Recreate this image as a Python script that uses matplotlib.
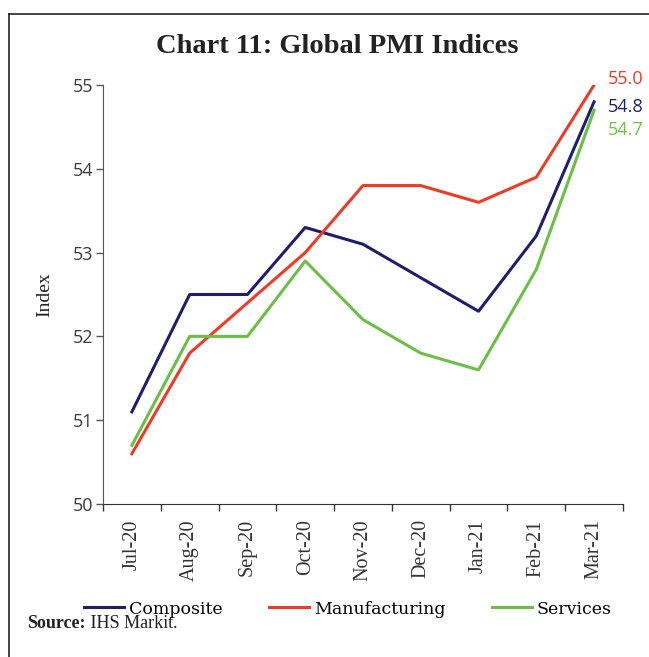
import matplotlib
matplotlib.use("Agg")
import matplotlib.pyplot as plt
from matplotlib.lines import Line2D

months = ["Jul-20", "Aug-20", "Sep-20", "Oct-20", "Nov-20",
          "Dec-20", "Jan-21", "Feb-21", "Mar-21"]
composite = [51.1, 52.5, 52.5, 53.3, 53.1, 52.7, 52.3, 53.2, 54.8]
manufacturing = [50.6, 51.8, 52.4, 53.0, 53.8, 53.8, 53.6, 53.9, 55.0]
services = [50.7, 52.0, 52.0, 52.9, 52.2, 51.8, 51.6, 52.8, 54.7]

NAVY = "#1e1e6e"
RED = "#f03a26"
GREEN = "#6abf45"
SERIF = "Liberation Serif"
WIDE_SERIF = "DejaVu Serif"
SANS = "Open Sans"

fig = plt.figure(figsize=(6.49, 6.57), dpi=100)
ax = fig.add_axes([0.1587, 0.2329, 0.8012, 0.6377])

x = range(len(months))
ax.plot(x, composite, color=NAVY, lw=2.2, label="Composite")
ax.plot(x, manufacturing, color=RED, lw=2.2, label="Manufacturing")
ax.plot(x, services, color=GREEN, lw=2.2, label="Services")

# value labels at the last month, nudged apart so they don't collide
last = len(months) - 1
for series, color, dy in [(manufacturing, RED, 4.5), (composite, NAVY, -3.5), (services, GREEN, -14.5)]:
    ax.annotate(f"{series[-1]:.1f}", xy=(last, series[-1]), xytext=(10, dy),
                textcoords="offset points", color=color, fontsize=13,
                family=SANS, va="center", ha="left", annotation_clip=False)

ax.set_xlim(-0.5, len(months) - 0.5)
ax.set_ylim(50, 55)
ax.set_yticks(range(50, 56))
ax.tick_params(axis="y", labelsize=13, colors="#555555", labelcolor="#3a3a3a",
               length=5, width=1, pad=2)
for lbl in ax.get_yticklabels():
    lbl.set_family(SANS)

# category boundaries carry the tick marks, labels sit at the centres
ax.set_xticks([i - 0.5 for i in range(len(months) + 1)])
ax.set_xticklabels([])
ax.set_xticks(list(x), minor=True)
ax.set_xticklabels(months, minor=True, rotation=90, family=SERIF,
                   fontsize=14.5, color="#333333")
ax.tick_params(axis="x", which="major", length=5, width=1, colors="#333333")
ax.tick_params(axis="x", which="minor", length=0, pad=11)

for side in ("top", "right"):
    ax.spines[side].set_visible(False)
ax.spines["left"].set_color("#555555")
ax.spines["bottom"].set_color("#333333")

ax.set_ylabel("Index", family=SERIF, fontsize=14, color="#222222", labelpad=14)

fig.text(0.519, 0.929, "Chart 11: Global PMI Indices", ha="center", va="center",
         family=SERIF, fontweight="bold", fontsize=20.5, color="#222222")

fig.legend(loc="center", bbox_to_anchor=(0.536, 0.073), ncol=3, frameon=False,
           prop={"family": WIDE_SERIF, "size": 12.5}, handlelength=2.3,
           handletextpad=0.28, columnspacing=2.7)

src = fig.text(27 / 649, 1 - 624 / 657, "Source:", family=SERIF,
               fontweight="bold", fontsize=13, va="center", color="#222222")
ax.annotate(" IHS Markit.", xy=(1, 0.5), xycoords=src, va="center", ha="left",
            family=SERIF, fontsize=13, color="#222222", annotation_clip=False)

# outer frame: only the left and top edges show
fx, fy = 9 / 649, 1 - 14 / 657
fig.add_artist(Line2D([fx, fx], [0, fy], transform=fig.transFigure, color="#222222", lw=1.2))
fig.add_artist(Line2D([fx, 1], [fy, fy], transform=fig.transFigure, color="#222222", lw=1.2))

fig.savefig("out.png", dpi=100)
